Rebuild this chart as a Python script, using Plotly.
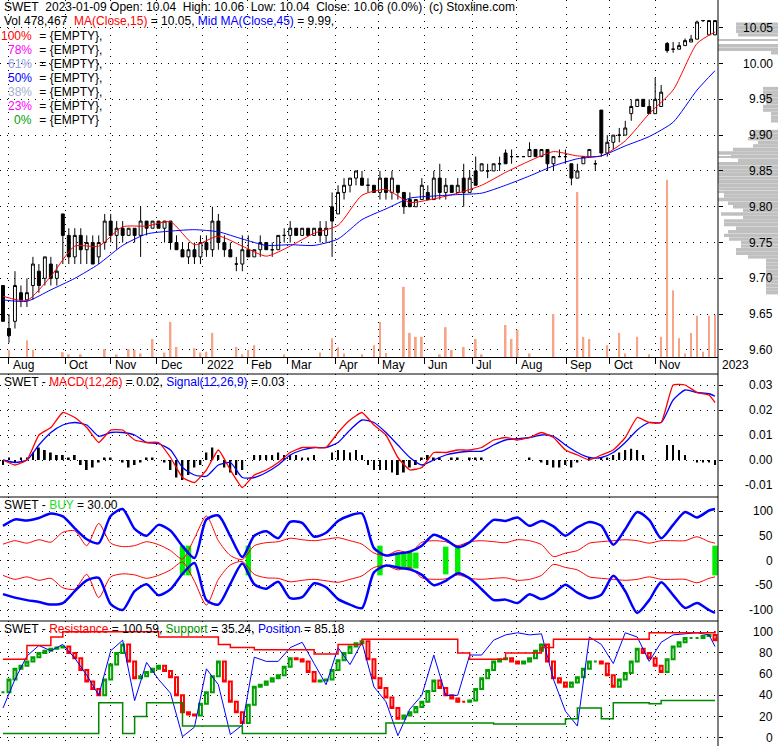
import plotly.graph_objects as go

W, H = 778, 746
FONT = "Arial, 'Liberation Sans', sans-serif"

# ---------------- data ----------------
# one candle slot is roughly three sessions
slots = list(range(120))

price_open = [
    9.69, 9.63, 9.64, 9.68, 9.67, 9.69, 9.71, 9.70, 9.72, 9.70,
    9.79, 9.76, 9.73, 9.76, 9.74, 9.75, 9.73, 9.75, 9.78, 9.76,
    9.77, 9.76, 9.77, 9.76, 9.78, 9.77, 9.78, 9.77, 9.78, 9.75,
    9.74, 9.73, 9.74, 9.73, 9.75, 9.74, 9.78, 9.75, 9.74, 9.72,
    9.72, 9.74, 9.73, 9.74, 9.75, 9.74, 9.74, 9.76, 9.76, 9.77,
    9.76, 9.77, 9.76, 9.77, 9.76, 9.80, 9.79, 9.82, 9.83, 9.84,
    9.84, 9.83, 9.83, 9.82, 9.84, 9.82, 9.83, 9.82, 9.81, 9.80,
    9.81, 9.82, 9.81, 9.84, 9.82, 9.83, 9.82, 9.84, 9.82, 9.85,
    9.85, 9.85, 9.85, 9.86, 9.875, 9.87, 9.87, 9.87, 9.87, 9.88,
    9.87, 9.88, 9.86, 9.87, 9.87, 9.86, 9.84, 9.86, 9.87, 9.86,
    9.935, 9.875, 9.89, 9.90, 9.90, 9.93, 9.94, 9.95, 9.94, 9.93,
    9.94, 10.028, 10.02, 10.02, 10.025, 10.03, 10.034, 10.06, 10.04, 10.04,
]
price_high = [
    9.69, 9.65, 9.71, 9.69, 9.70, 9.73, 9.72, 9.73, 9.73, 9.72,
    9.79, 9.77, 9.77, 9.77, 9.76, 9.76, 9.76, 9.79, 9.79, 9.78,
    9.78, 9.77, 9.77, 9.80, 9.78, 9.78, 9.78, 9.78, 9.78, 9.76,
    9.75, 9.75, 9.75, 9.76, 9.76, 9.80, 9.79, 9.76, 9.75, 9.73,
    9.76, 9.76, 9.74, 9.76, 9.75, 9.75, 9.76, 9.77, 9.78, 9.77,
    9.77, 9.77, 9.77, 9.78, 9.78, 9.82, 9.83, 9.84, 9.84, 9.85,
    9.85, 9.84, 9.83, 9.85, 9.84, 9.85, 9.83, 9.82, 9.82, 9.81,
    9.84, 9.83, 9.85, 9.86, 9.84, 9.83, 9.84, 9.86, 9.85, 9.87,
    9.86, 9.86, 9.86, 9.87, 9.88, 9.88, 9.87, 9.87, 9.89, 9.88,
    9.88, 9.88, 9.87, 9.88, 9.88, 9.86, 9.86, 9.87, 9.88, 9.865,
    9.935, 9.90, 9.90, 9.91, 9.92, 9.95, 9.95, 9.95, 9.95, 9.98,
    9.97, 10.03, 10.03, 10.03, 10.035, 10.04, 10.06, 10.06, 10.06, 10.06,
]
price_low = [
    9.64, 9.61, 9.63, 9.66, 9.66, 9.67, 9.68, 9.69, 9.69, 9.69,
    9.72, 9.72, 9.72, 9.72, 9.72, 9.72, 9.72, 9.74, 9.75, 9.74,
    9.75, 9.76, 9.75, 9.73, 9.76, 9.77, 9.77, 9.75, 9.74, 9.74,
    9.73, 9.72, 9.72, 9.72, 9.73, 9.73, 9.74, 9.73, 9.73, 9.71,
    9.71, 9.73, 9.73, 9.73, 9.74, 9.73, 9.74, 9.75, 9.75, 9.76,
    9.76, 9.76, 9.76, 9.75, 9.75, 9.73, 9.79, 9.81, 9.82, 9.83,
    9.83, 9.82, 9.82, 9.81, 9.81, 9.81, 9.81, 9.79, 9.80, 9.80,
    9.81, 9.81, 9.81, 9.81, 9.81, 9.82, 9.82, 9.80, 9.82, 9.83,
    9.85, 9.84, 9.85, 9.85, 9.86, 9.86, 9.87, 9.87, 9.87, 9.87,
    9.87, 9.85, 9.85, 9.87, 9.86, 9.83, 9.84, 9.86, 9.87, 9.85,
    9.87, 9.87, 9.88, 9.89, 9.90, 9.92, 9.94, 9.94, 9.93, 9.93,
    9.94, 10.015, 10.015, 10.02, 10.025, 10.03, 10.034, 10.058, 10.04, 10.04,
]
price_close = [
    9.64, 9.62, 9.69, 9.67, 9.68, 9.72, 9.69, 9.73, 9.70, 9.71,
    9.76, 9.73, 9.76, 9.74, 9.75, 9.72, 9.75, 9.78, 9.76, 9.77,
    9.76, 9.77, 9.76, 9.78, 9.77, 9.78, 9.77, 9.78, 9.75, 9.74,
    9.73, 9.74, 9.73, 9.75, 9.74, 9.78, 9.75, 9.74, 9.73, 9.72,
    9.74, 9.73, 9.74, 9.75, 9.74, 9.74, 9.76, 9.76, 9.77, 9.76,
    9.77, 9.76, 9.77, 9.76, 9.77, 9.78, 9.82, 9.83, 9.84, 9.85,
    9.83, 9.83, 9.82, 9.84, 9.82, 9.84, 9.82, 9.80, 9.80, 9.81,
    9.83, 9.81, 9.84, 9.82, 9.83, 9.82, 9.83, 9.82, 9.84, 9.83,
    9.86, 9.85, 9.86, 9.86, 9.86, 9.87, 9.87, 9.87, 9.88, 9.87,
    9.88, 9.86, 9.87, 9.87, 9.87, 9.84, 9.85, 9.87, 9.88, 9.86,
    9.875, 9.89, 9.90, 9.90, 9.91, 9.94, 9.95, 9.94, 9.93, 9.95,
    9.96, 10.018, 10.02, 10.025, 10.032, 10.034, 10.058, 10.06, 10.06, 10.06,
]
volume_k = [
    0, 80, 0, 0, 190, 80, 0, 0, 0, 0,
    55, 30, 0, 30, 0, 0, 0, 90, 0, 30,
    0, 90, 80, 40, 0, 205, 0, 50, 400, 115,
    0, 0, 100, 50, 60, 275, 0, 0, 0, 115,
    30, 80, 135, 0, 0, 0, 0, 30, 0, 0,
    0, 0, 0, 50, 0, 215, 110, 40, 0, 0,
    30, 0, 135, 400, 45, 0, 0, 800, 275, 230,
    230, 0, 0, 30, 340, 80, 0, 115, 0, 205,
    30, 0, 0, 0, 365, 205, 310, 0, 40, 0,
    0, 0, 490, 0, 0, 0, 1880, 230, 205, 0,
    0, 135, 0, 275, 40, 0, 230, 0, 30, 0,
    230, 2020, 760, 215, 40, 275, 470, 60, 470, 478,
]

ma_slots = list(range(0, 120, 4)) + [119]
ma15 = [9.675, 9.669, 9.703, 9.745, 9.745, 9.772, 9.773, 9.779, 9.747, 9.759,
        9.745, 9.731, 9.745, 9.763, 9.774, 9.816, 9.824, 9.806, 9.811, 9.819,
        9.830, 9.848, 9.864, 9.877, 9.871, 9.871, 9.892, 9.930, 9.963, 10.028, 10.044]
ma45 = [9.670, 9.668, 9.684, 9.700, 9.720, 9.746, 9.762, 9.766, 9.768, 9.765,
        9.755, 9.746, 9.747, 9.746, 9.755, 9.782, 9.797, 9.812, 9.815, 9.817,
        9.819, 9.830, 9.843, 9.857, 9.867, 9.871, 9.885, 9.898, 9.918, 9.963, 9.990]

line_slots = list(range(0, 120, 2)) + [119]
macd = [0.000, -0.002, 0.000, 0.010, 0.013, 0.019, 0.017, 0.013, 0.007, 0.012,
        0.012, 0.008, 0.007, 0.007, 0.001, -0.007, -0.009, -0.004, 0.004, -0.004,
        -0.011, -0.006, -0.004, -0.001, 0.003, 0.005, 0.005, 0.005, 0.011, 0.016,
        0.019, 0.014, 0.010, 0.001, -0.004, -0.003, 0.003, 0.003, 0.004, 0.004,
        0.005, 0.008, 0.009, 0.008, 0.009, 0.011, 0.009, 0.004, 0.002, 0.000,
        0.002, 0.004, 0.009, 0.017, 0.015, 0.015, 0.030, 0.030, 0.027, 0.026, 0.023]
signal = [0.000, -0.001, 0.000, 0.006, 0.011, 0.014, 0.015, 0.014, 0.0095, 0.011,
          0.011, 0.010, 0.007, 0.0065, 0.004, -0.003, -0.006, -0.0065, -0.002, -0.001,
          -0.007, -0.007, -0.005, -0.002, 0.002, 0.004, 0.005, 0.005, 0.007, 0.012,
          0.016, 0.015, 0.011, 0.006, 0.001, -0.002, 0.000, 0.002, 0.003, 0.0035,
          0.0035, 0.006, 0.008, 0.0085, 0.009, 0.010, 0.0095, 0.006, 0.003, 0.001,
          0.001, 0.003, 0.007, 0.012, 0.015, 0.015, 0.024, 0.028, 0.027, 0.0265, 0.0255]
macd_hist = [
    -0.002, 0.001, -0.001, 0.001, 0.001, 0.003, 0.005, 0.004, 0.003, 0.002,
    0.002, 0.001, 0.002, -0.002, -0.004, -0.003, -0.001, 0.001, 0.001, 0.0,
    -0.001, -0.003, -0.002, -0.001, 0.001, 0.001, 0.0, -0.001, -0.004, -0.007,
    -0.008, -0.006, -0.003, -0.002, 0.003, 0.005, 0.002, -0.003, -0.005, -0.006,
    -0.004, 0.0, 0.002, 0.002, 0.002, 0.002, 0.003, 0.002, 0.002, 0.002,
    0.001, 0.001, 0.002, 0.0, 0.0, 0.003, 0.004, 0.004, 0.003, 0.004,
    0.002, -0.002, -0.004, -0.004, -0.004, -0.005, -0.006, -0.005, -0.003, -0.002,
    0.001, 0.002, 0.001, 0.001, 0.0, 0.001, 0.001, 0.0, 0.001, 0.001,
    0.001, 0.0, 0.0, 0.0, 0.0, 0.0, 0.0, 0.0, 0.001, 0.0,
    -0.001, -0.002, -0.003, -0.003, -0.002, -0.003, -0.001, 0.0, 0.001, 0.0,
    0.001, 0.001, 0.002, 0.003, 0.004, 0.0045, 0.004, 0.002, 0.0, 0.0,
    0.0, 0.006, 0.006, 0.004, 0.002, 0.0, -0.001, -0.001, -0.001, -0.002,
]

buy_upper = [70, 83, 81, 86, 95, 89, 65, 43, 35, 90,
             104, 64, 50, 72, 60, 29, 5, 83, 91, 49,
             7, 50, 59, 45, 78, 76, 48, 56, 80, 91,
             95, 25, 10, 14, 18, 30, 52, 42, 27, 37,
             60, 82, 80, 87, 70, 80, 69, 50, 67, 78,
             70, 32, 63, 98, 82, 45, 72, 98, 87, 101, 104]
buy_lower = [-68, -75, -80, -84, -89, -86, -62, -40, -35, -88,
             -100, -62, -48, -70, -58, -27, -5, -80, -89, -47,
             -6, -48, -57, -43, -76, -74, -46, -54, -78, -89,
             -96, -24, -10, -14, -18, -29, -50, -41, -26, -36,
             -58, -80, -79, -86, -68, -78, -67, -49, -65, -76,
             -69, -31, -62, -106, -80, -44, -70, -96, -86, -100, -106]
buy_red_upper = [33, 40, 35, 42, 37, 57, 60, 30, 75, 35,
                 28, 30, 38, 32, 20, 3, 45, 90, 40, 10,
                 2, 30, 36, 38, 45, 42, 40, 43, 46, 40,
                 33, 15, 10, 20, 15, 37, 40, 38, 30, 38,
                 40, 38, 36, 42, 40, 32, 8, 15, 20, 35,
                 38, 40, 42, 40, 35, 40, 40, 40, 48, 38, 35]
buy_red_lower = [-30, -38, -33, -40, -36, -55, -58, -28, -75, -33,
                 -27, -29, -36, -30, -19, -3, -42, -90, -38, -9,
                 -2, -28, -35, -36, -43, -40, -38, -41, -44, -38,
                 -31, -14, -10, -19, -14, -35, -38, -37, -29, -36,
                 -38, -36, -35, -40, -38, -30, -8, -14, -19, -33,
                 -36, -38, -40, -38, -33, -38, -38, -38, -45, -36, -33]
buy_slots = [30, 31, 41, 63, 66, 67, 68, 69, 74, 76, 119]
buy_half = [30, 30, 30, 30, 16, 16, 16, 16, 28, 28, 30]

resistance = [74, 74, 87, 87, 95, 100, 100, 100, 100, 100,
              100, 100, 100, 95, 95, 95, 95, 95, 88, 85,
              85, 83, 83, 83, 83, 83, 79, 79, 88, 88,
              93, 93, 93, 93, 93, 93, 93, 93, 80, 74,
              74, 74, 80, 80, 80, 85, 93, 93, 93, 93,
              93, 93, 93, 93, 99, 99, 99, 99, 99, 99, 100.6]
support = [4, 4, 4, 4, 4, 4, 4, 4, 33, 33,
           4, 20, 33, 33, 33, 11, 11, 11, 11, 11,
           4, 4, 4, 4, 4, 4, 4, 4, 4, 4,
           4, 4, 14, 14, 14, 14, 14, 14, 14, 14,
           14, 13, 13, 13, 13, 13, 13, 18, 28, 28,
           18, 33, 33, 33, 32, 35, 35, 35, 35, 35, 35]
position = [28, 55, 77, 87, 82, 88, 75, 59, 40, 82,
            92, 35, 71, 55, 42, 1, 10, 65, 50, 3,
            12, 76, 72, 72, 85, 90, 70, 50, 85, 69,
            90, 48, 34, 2, 27, 40, 78, 40, 40, 78,
            78, 92, 97, 99, 97, 98, 55, 25, 11, 95,
            88, 70, 99, 95, 72, 90, 97, 98, 99, 97, 86]
# stepped oscillator drawn as small boxes, one per slot
stoch = [43, 55, 65, 68, 72, 76, 80, 82, 84, 85,
         86, 80, 75, 64, 53, 46, 40, 55, 69, 80,
         88, 72, 56, 58, 62, 65, 68, 63, 57, 40,
         24, 22, 21, 32, 43, 58, 72, 53, 34, 24,
         14, 31, 48, 50, 53, 56, 59, 67, 75, 74,
         72, 62, 53, 54, 55, 64, 73, 80, 86, 89,
         91, 74, 56, 47, 38, 28, 18, 21, 24, 29,
         34, 44, 54, 47, 40, 37, 34, 34, 35, 46,
         56, 64, 72, 74, 75, 72, 70, 72, 75, 82,
         88, 72, 56, 52, 48, 52, 57, 65, 72, 72,
         70, 59, 48, 55, 61, 72, 84, 80, 75, 68,
         62, 74, 86, 90, 94, 94, 94, 96, 97, 92]

# volume at price (right-hand grey profile)
profile_price = [10.055, 10.05, 10.045, 10.04, 10.025, 10.02, 10.015,
                 9.965, 9.96, 9.955, 9.95, 9.945, 9.94, 9.935, 9.93, 9.925, 9.92,
                 9.905, 9.90, 9.895, 9.89, 9.885, 9.88, 9.875, 9.87, 9.865, 9.86,
                 9.855, 9.85, 9.845, 9.84, 9.835, 9.83, 9.825, 9.82, 9.815, 9.81,
                 9.805, 9.80, 9.795, 9.79, 9.785, 9.78, 9.775, 9.77, 9.765, 9.76,
                 9.755, 9.75, 9.745, 9.74, 9.735, 9.73, 9.725, 9.72, 9.715, 9.71,
                 9.705, 9.70, 9.695, 9.69, 9.685, 9.68]
profile_vol = [42, 42, 42, 40, 180, 180, 7,
               15, 15, 15, 14, 12, 15, 15, 7, 7, 7,
               25, 28, 30, 20, 25, 45, 60, 47, 40, 60,
               100, 100, 65, 112, 69, 59, 59, 54, 54, 157,
               50, 45, 35, 57, 35, 54, 54, 42, 50, 54,
               49, 37, 37, 42, 42, 30, 12, 12, 12, 12,
               12, 12, 12, 12, 12, 12]
peak_price = [10.033, 9.87, 9.86, 9.821]
peak_vol = [220, 285, 536, 431]

month_labels = ["Aug", "Oct", "Nov", "Dec", "2022", "Feb", "Mar", "Apr", "May",
                "Jun", "Jul", "Aug", "Sep", "Oct", "Nov", "2023"]
month_pos = [1.0, 10.4, 18.0, 25.7, 33.4, 40.8, 47.5, 55.5, 62.7,
             70.4, 78.4, 85.9, 94.1, 101.4, 109.0, 119.5]

price_ticks = [9.60, 9.65, 9.70, 9.75, 9.80, 9.85, 9.90, 9.95, 10.00, 10.05]
macd_ticks = [0.03, 0.02, 0.01, 0.00, -0.01]
buy_ticks = [100, 50, 0, -50, -100]
res_ticks = [100, 80, 60, 40, 20, 0]

# ---------------- layout geometry ----------------
XR = 718 / W
PRICE_DOM = [1 - 357 / H, 1]
MACD_DOM = [1 - 497 / H, 1 - 374 / H]
BUY_DOM = [1 - 621 / H, 1 - 497 / H]
RES_DOM = [0, 1 - 621 / H]

fig = go.Figure()

# profile first so it stays underneath everything
fig.add_trace(go.Bar(x=profile_vol, y=profile_price, orientation="h", width=0.0048,
                     marker=dict(color="#c0c0c0", line=dict(width=0)),
                     xaxis="x", yaxis="y", hoverinfo="skip"))
fig.add_trace(go.Bar(x=peak_vol, y=peak_price, orientation="h", width=0.0018,
                     marker=dict(color="#c0c0c0", line=dict(width=0)),
                     xaxis="x", yaxis="y", hoverinfo="skip"))

# price panel
fig.add_trace(go.Candlestick(
    x=slots, open=price_open, high=price_high, low=price_low, close=price_close,
    xaxis="x2", yaxis="y2", whiskerwidth=0, hoverinfo="skip",
    increasing=dict(line=dict(color="black", width=1), fillcolor="white"),
    decreasing=dict(line=dict(color="black", width=1), fillcolor="black"),
))
fig.add_trace(go.Scatter(x=ma_slots, y=ma15, mode="lines",
                         line=dict(color="#ff0000", width=1, shape="spline", smoothing=0.6),
                         xaxis="x2", yaxis="y2", hoverinfo="skip"))
fig.add_trace(go.Scatter(x=ma_slots, y=ma45, mode="lines",
                         line=dict(color="#0000ff", width=1, shape="spline", smoothing=0.6),
                         xaxis="x2", yaxis="y2", hoverinfo="skip"))
fig.add_trace(go.Bar(x=slots, y=volume_k, width=0.3, marker=dict(color="#f7a488", line=dict(width=0)),
                     xaxis="x2", yaxis="y6", hoverinfo="skip"))

# MACD panel
fig.add_trace(go.Bar(x=slots, y=macd_hist, width=0.3, marker=dict(color="black", line=dict(width=0)),
                     xaxis="x3", yaxis="y3", hoverinfo="skip"))
fig.add_trace(go.Scatter(x=line_slots, y=signal, mode="lines",
                         line=dict(color="#0000ff", width=1.3, shape="spline", smoothing=0.6),
                         xaxis="x3", yaxis="y3", hoverinfo="skip"))
fig.add_trace(go.Scatter(x=line_slots, y=macd, mode="lines",
                         line=dict(color="#ff0000", width=1.3, shape="spline", smoothing=0.4),
                         xaxis="x3", yaxis="y3", hoverinfo="skip"))

# BUY panel
for vals, col, wd in ((buy_red_upper, "#ff0000", 1), (buy_red_lower, "#ff0000", 1),
                      (buy_upper, "#0000ff", 2.5), (buy_lower, "#0000ff", 2.5)):
    fig.add_trace(go.Scatter(x=line_slots, y=vals, mode="lines",
                             line=dict(color=col, width=wd, shape="spline", smoothing=0.7),
                             xaxis="x4", yaxis="y4", hoverinfo="skip"))
fig.add_trace(go.Bar(x=buy_slots, y=[2 * h for h in buy_half], base=[-h for h in buy_half], width=0.9,
                     marker=dict(color="#00ee00", line=dict(width=0)),
                     xaxis="x4", yaxis="y4", hoverinfo="skip"))

# Resistance / Support / Position panel
fig.add_trace(go.Scatter(x=line_slots, y=position, mode="lines", line=dict(color="#0000ff", width=1),
                         xaxis="x5", yaxis="y5", hoverinfo="skip"))
stoch_open = [stoch[0]] + stoch[:-1]
fig.add_trace(go.Candlestick(
    x=slots, open=stoch_open, close=stoch,
    high=[max(a, b) for a, b in zip(stoch_open, stoch)],
    low=[min(a, b) for a, b in zip(stoch_open, stoch)],
    xaxis="x5", yaxis="y5", whiskerwidth=0, hoverinfo="skip",
    increasing=dict(line=dict(color="#00a000", width=2), fillcolor="white"),
    decreasing=dict(line=dict(color="#ff0000", width=2), fillcolor="white"),
))
fig.add_trace(go.Scatter(x=line_slots, y=resistance, mode="lines", line=dict(color="#ff0000", width=1.5, shape="hv"),
                         xaxis="x5", yaxis="y5", hoverinfo="skip"))
fig.add_trace(go.Scatter(x=line_slots, y=support, mode="lines", line=dict(color="#008800", width=1.5, shape="hv"),
                         xaxis="x5", yaxis="y5", hoverinfo="skip"))

# ---------------- axes ----------------
grid = dict(showgrid=True, gridcolor="black", gridwidth=1, griddash="1px,6px", zeroline=False)
xcommon = dict(range=[-0.5, 119.5], domain=[0, XR], tickmode="array", tickvals=month_pos[:-1],
               showticklabels=False, rangeslider=dict(visible=False), **grid)
ycommon = dict(side="right", tickmode="array", ticks="outside", ticklen=4, tickcolor="black",
               showticklabels=False, showline=False, **grid)

fig.update_layout(
    width=W, height=H, margin=dict(l=0, r=0, t=0, b=0),
    paper_bgcolor="white", plot_bgcolor="white", showlegend=False,
    barmode="overlay", font=dict(family=FONT, size=12, color="black"),
    xaxis=dict(domain=[0, 1], range=[W, 0], visible=False, anchor="y"),
    yaxis=dict(domain=PRICE_DOM, range=[9.5902, 10.0887], visible=False, anchor="x"),
    xaxis2=dict(anchor="y2", ticks="outside", ticklen=6, tickcolor="black",
                showline=True, linecolor="black", linewidth=1, **xcommon),
    yaxis2=dict(domain=PRICE_DOM, range=[9.5902, 10.0887], anchor="x2", tickvals=price_ticks, **ycommon),
    yaxis6=dict(overlaying="y2", range=[0, 4070], visible=False, anchor="x2"),
    xaxis3=dict(anchor="y3", ticks="", **xcommon),
    yaxis3=dict(domain=MACD_DOM, range=[-0.0148, 0.0344], anchor="x3", tickvals=macd_ticks, **ycommon),
    xaxis4=dict(anchor="y4", ticks="", **xcommon),
    yaxis4=dict(domain=BUY_DOM, range=[-122.2, 128.3], anchor="x4", tickvals=buy_ticks, **ycommon),
    xaxis5=dict(anchor="y5", ticks="", **xcommon),
    yaxis5=dict(domain=RES_DOM, range=[-7.8, 110.1], anchor="x5", tickvals=res_ticks, **ycommon),
)

# frame lines
frame = dict(color="black", width=1)
fig.add_shape(type="line", xref="paper", yref="paper", x0=XR, x1=XR, y0=0, y1=1, line=frame)
for py in (374, 497, 621):
    fig.add_shape(type="line", xref="paper", yref="paper", x0=0, x1=XR,
                  y0=1 - py / H, y1=1 - py / H, line=frame)


def label(px, py, text, anchor="left"):
    fig.add_annotation(x=px / W, y=1 - py / H, xref="paper", yref="paper", text=text,
                       xanchor=anchor, yanchor="middle", showarrow=False,
                       font=dict(family=FONT, size=12, color="black"))


def span(text, color):
    return f"<span style='color:{color}'>{text}</span>"


# right-hand tick labels
for yref, vals, fmt in (("y2", price_ticks, "{:.2f}"), ("y3", macd_ticks, "{:.2f}"),
                        ("y4", buy_ticks, "{:d}"), ("y5", res_ticks, "{:d}")):
    for v in vals:
        fig.add_annotation(x=775 / W, xref="paper", y=v, yref=yref, text=fmt.format(v),
                           xanchor="right", yanchor="middle", showarrow=False,
                           font=dict(family=FONT, size=12, color="black"))

# month labels under the price panel
for name, pos in zip(month_labels, month_pos):
    fig.add_annotation(x=pos, xref="x2", y=1 - 365 / H, yref="paper", text=name,
                       xanchor="left", yanchor="middle", xshift=2, showarrow=False,
                       font=dict(family=FONT, size=12, color="black"))

# panel headers
label(2, 7, "SWET&nbsp;&nbsp;2023-01-09 Open: 10.04&nbsp;&nbsp;High: 10.06&nbsp;&nbsp;Low: 10.04&nbsp;&nbsp;"
            "Close: 10.06 (0.0%)&nbsp;&nbsp;(c) Stoxline.com")
label(2, 21.5, "Vol 478,467&nbsp;&nbsp;" + span("MA(Close,15)", "#ff0000") + " = 10.05, "
               + span("Mid MA(Close,45)", "#0000ff") + " = 9.99,")
fib_names = ["100%", "78%", "61%", "50%", "38%", "23%", "0%"]
fib_colors = ["#ff0000", "#ff00ff", "#8fa0d8", "#0000ff", "#a6b0d0", "#ff00ff", "#00a000"]
for k, (nm, col) in enumerate(zip(fib_names, fib_colors)):
    py = 35.7 + k * 14.1
    label(34, py, span(nm, col), anchor="right")
    label(34, py, " = {EMPTY}" + ("," if k < len(fib_names) - 1 else ""))

label(2, 382, "SWET - " + span("MACD(12,26)", "#ff0000") + " = 0.02, "
              + span("Signal(12,26,9)", "#0000ff") + " = 0.03")
label(2, 505, "SWET - " + span("BUY", "#22dd22") + " = 30.00")
label(2, 629, "SWET - " + span("Resistance", "#ff0000") + " = 100.59, "
              + span("Support", "#009900") + " = 35.24, "
              + span("Position", "#0000ff") + " = 85.18")

# the page body has a default margin; drop it so the figure fills the window
fig.write_html("out.html", config={"displayModeBar": False},
               post_script="document.body.style.margin='0';")
